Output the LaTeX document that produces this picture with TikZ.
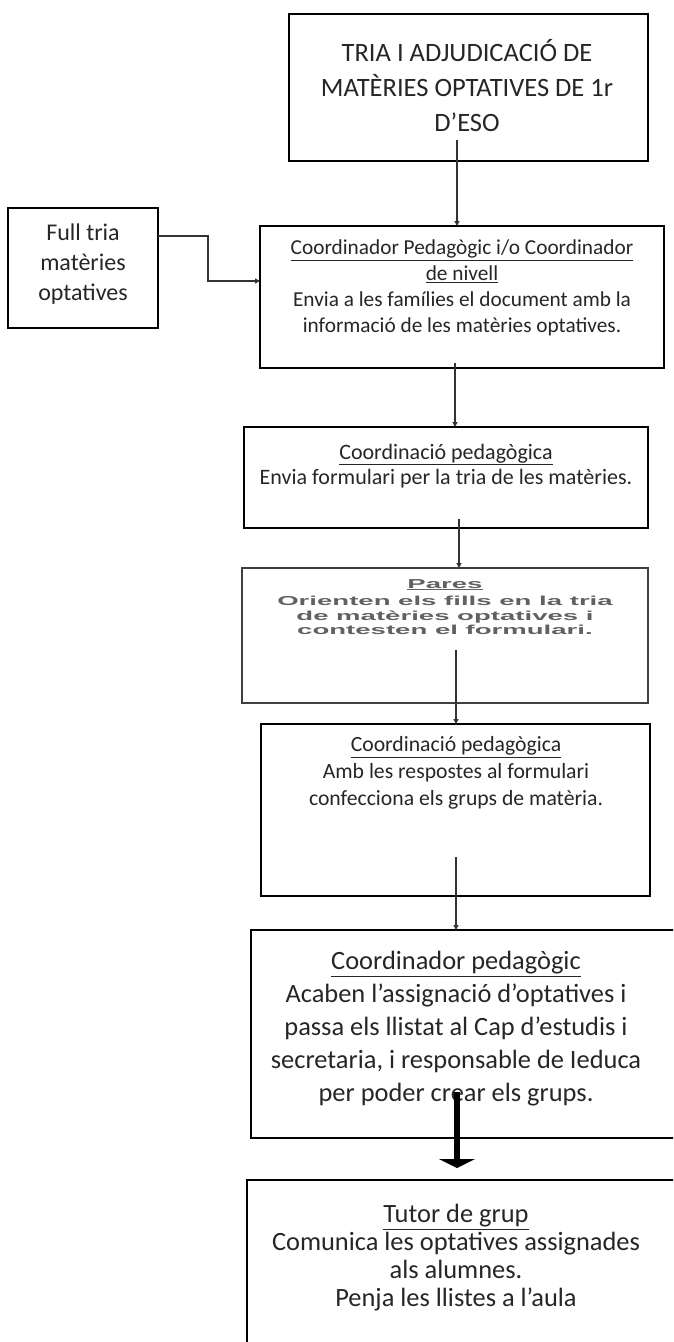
\documentclass[tikz,border=0pt]{standalone}
\usepackage{fontspec}
\usepackage{graphicx}
\setmainfont{Carlito}
\newfontfamily\arialfont{Liberation Sans}
\usetikzlibrary{arrows.meta,calc}
\newcommand\myfs[2]{\fontsize{#1}{#2}\selectfont\lineskiplimit=-40pt\relax}
\newcommand\pw[1]{\scalebox{2.12}[1]{#1}}
\begin{document}
\begin{tikzpicture}[x=1pt,y=-1pt,
  box/.style={draw=black, line width=1.3pt, anchor=north west, inner sep=0pt, outer sep=0pt},
  txt/.style={align=center, inner sep=0pt, text=black!85},
  conn/.style={draw=black!80, line width=1.2pt, -{Triangle[length=5pt,width=5pt]}},
  bigarrow/.style={draw=black, line width=6pt, -{Triangle[length=9pt,width=36pt]}},
  pares/.style={align=center, inner sep=0pt, text=black!62, font=\arialfont\bfseries\myfs{13}{14.5}}
]
\useasboundingbox (0,0) rectangle (673,1342);
\clip (0,0) rectangle (673,1342);

% boxes
\node[box, minimum width=359pt, minimum height=147pt] (b1) at (289,14) {};
\node[box, minimum width=150pt, minimum height=120pt] (b0) at (8,208) {};
\node[box, minimum width=404pt, minimum height=142pt] (b2) at (260,226) {};
\node[box, minimum width=404pt, minimum height=101pt] (b3) at (244,427) {};
\node[box, draw=black!75, line width=2.5pt, minimum width=406pt, minimum height=135pt] (b4) at (242,568) {};
\node[box, minimum width=389pt, minimum height=172pt] (b5) at (261,724) {};
\node[box, minimum width=440pt, minimum height=208pt] (b6) at (251,930) {};
\node[box, minimum width=440pt, minimum height=220pt] (b7) at (247,1180) {};

% texts
\node[txt, font=\myfs{26.5}{35}] (t1) at (467,86) {TRIA I ADJUDICACIÓ DE\\MATÈRIES OPTATIVES DE 1r\\D’ESO};
\node[txt, font=\myfs{24}{30}] (t0) at (83,264) {Full tria\\matèries\\optatives};
\node[txt, font=\myfs{21.3}{26}] (t2) at (462,288) {\underline{Coordinador Pedagògic i/o Coordinador}\\\underline{de nivell}\\Envia a les famílies el document amb la\\informació de les matèries optatives.};
\node[txt, font=\myfs{22}{25.5}] (t3) at (446,466) {\underline{Coordinació pedagògica}\\Envia formulari per la tria de les matèries.};
\node[pares] (t4) at (445,607) {\pw{\underline{Pares}}\\[3pt]\pw{Orienten els fills en la tria}\\\pw{de matèries optatives i}\\\pw{contesten el formulari.}};
\node[txt, font=\myfs{21.7}{27}] (t5) at (456,773) {\underline{Coordinació pedagògica}\\Amb les respostes al formulari\\confecciona els grups de matèria.};
\node[txt, font=\myfs{26.4}{33}] (t6) at (456,1029) {\underline{Coordinador pedagògic}\\Acaben l’assignació d’optatives i\\passa els llistat al Cap d’estudis i\\secretaria, i responsable de Ieduca\\per poder crear els grups.};
\node[txt, font=\myfs{26.4}{28}] (t7) at (456,1258) {\underline{Tutor de grup}\\Comunica les optatives assignades\\als alumnes.\\Penja les llistes a l'aula};

% connector coordinates
\coordinate (s1) at (457,140);
\coordinate (s2) at (455,363);
\coordinate (s3) at (459,519);
\coordinate (s4) at (456,650);
\coordinate (s5) at (456,857);
\coordinate (s6) at (457,1092);
\coordinate (k0) at (158,236);
\coordinate (k1) at (208,236);
\coordinate (k2) at (208,281);

\draw[conn] (s1) -- (s1 |- b2.north);
\draw[conn] (k0) -- (k1) -- (k2) -- (k2 -| b2.west);
\draw[conn] (s2) -- (s2 |- b3.north);
\draw[conn] (s3) -- (s3 |- b4.north);
\draw[conn] (s4) -- (s4 |- b5.north);
\draw[conn] (s5) -- (s5 |- b6.north);
\draw[bigarrow] (s6) -- ($(s6 |- b7.north)+(0,-12)$);
\end{tikzpicture}
\end{document}
